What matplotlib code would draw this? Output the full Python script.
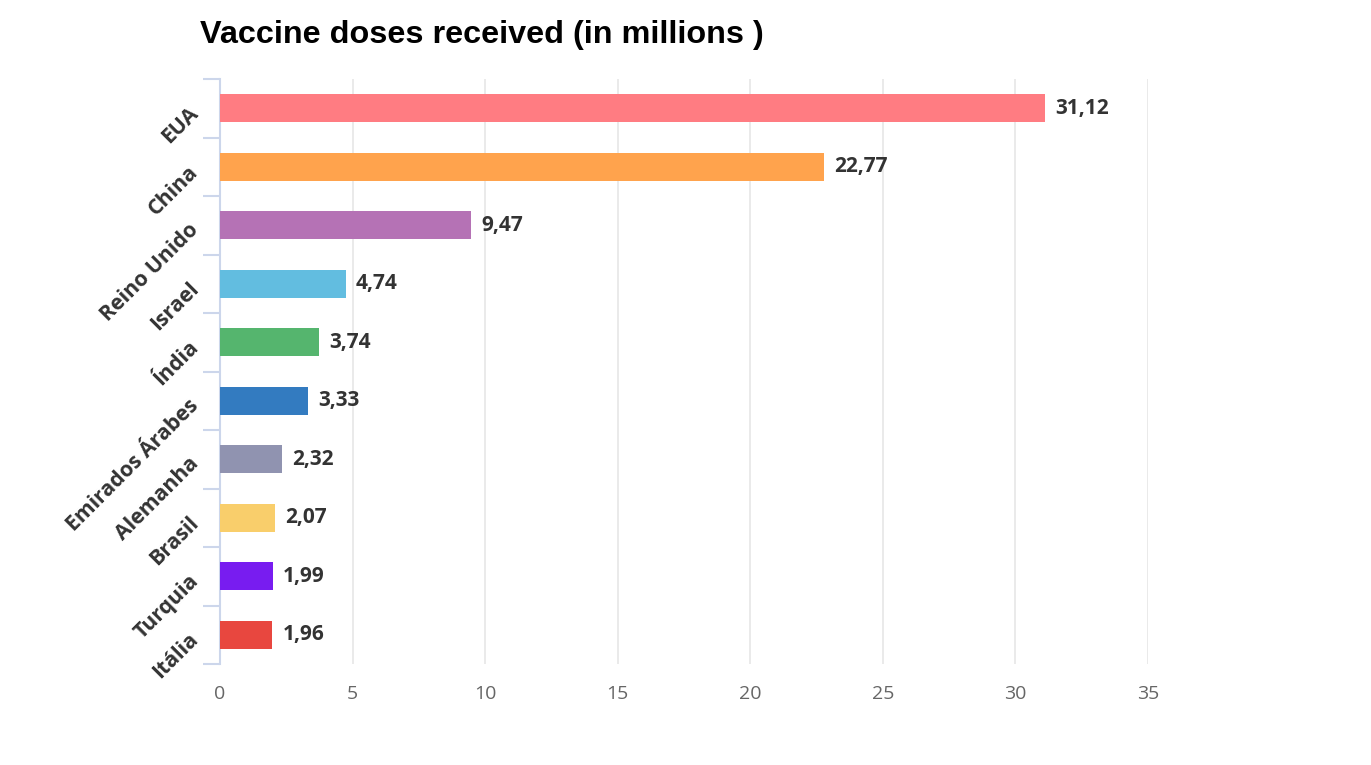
import matplotlib
matplotlib.use("Agg")
import matplotlib.pyplot as plt
import numpy as np

countries = ["EUA", "China", "Reino Unido", "Israel", "Índia", "Emirados Árabes",
             "Alemanha", "Brasil", "Turquia", "Itália"]
doses = [31.12, 22.77, 9.47, 4.74, 3.74, 3.33, 2.32, 2.07, 1.99, 1.96]
colors = ["#FF7C82", "#FFA34D", "#B572B5", "#62BDE0", "#55B56E", "#337BC0",
          "#9093B0", "#F9CE6B", "#781CF0", "#E8473F"]
x_ticks = [0, 5, 10, 15, 20, 25, 30, 35]

fig = plt.figure(figsize=(13.71, 7.65), dpi=100)
ax = fig.add_axes([220/1371, 1-664/765, (1148-220)/1371, (664-79)/765])

y = np.arange(len(countries))
ax.barh(y, doses, height=0.48, color=colors, zorder=3)
ax.set_ylim(len(countries)-0.5, -0.5)
ax.set_xlim(0, 35)

for yi, v in zip(y, doses):
    ax.annotate(f"{v:.2f}".replace(".", ","), (v, yi), xytext=(7.5, 0),
                textcoords="offset points", va="center", ha="left",
                fontsize=15, fontweight="bold", color="#333333", family="Open Sans")

ax.set_yticks(y)
ax.set_yticklabels(countries, rotation=45, ha="right", rotation_mode="anchor",
                   fontsize=15.3, fontweight="bold", color="#333333", family="Open Sans")
ax.tick_params(axis="y", which="major", length=0, pad=19)
ax.set_yticks(np.arange(-0.5, len(countries)), minor=True)
ax.tick_params(axis="y", which="minor", length=12.5, width=1.5, color="#ccd6eb")

ax.set_xticks(x_ticks)
ax.set_xticklabels([str(t) for t in x_ticks], fontsize=14, color="#666666", family="Open Sans")
ax.tick_params(axis="x", length=0, pad=15)
ax.grid(axis="x", color="#e6e6e6", linewidth=1.2, zorder=0)

for s in ["top", "right", "bottom"]:
    ax.spines[s].set_visible(False)
ax.spines["left"].set_color("#ccd6eb")
ax.spines["left"].set_linewidth(1.5)

fig.text(200/1371, 1-35.5/765, "Vaccine doses received (in millions )", fontsize=23.3,
         fontweight="bold", family="Liberation Sans", va="center", ha="left", color="black")

fig.savefig("out.png", dpi=100)
